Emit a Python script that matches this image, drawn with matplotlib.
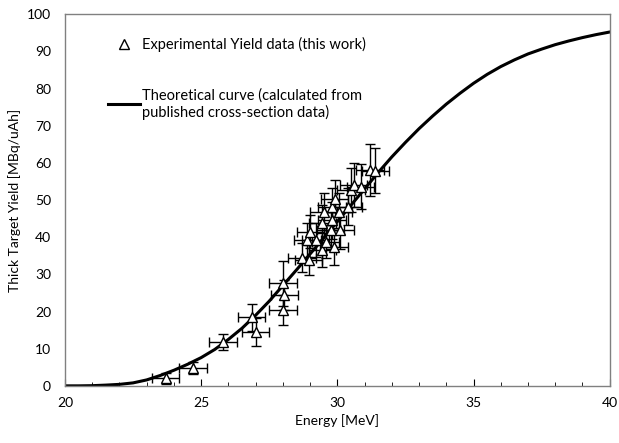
import numpy as np
import matplotlib.pyplot as plt
from matplotlib.lines import Line2D

plt.rcParams['font.family'] = ['Lato', 'DejaVu Sans']

# experimental yield points
energy = [23.7, 24.7, 25.8, 26.85, 27.0, 28.0, 28.05, 28.0,
          28.7, 28.95, 28.9, 29.2, 29.0, 29.45, 29.57, 29.88,
          29.76, 29.45, 29.8, 29.5, 29.8, 30.05, 29.9, 30.4,
          30.5, 30.6, 30.85, 30.1, 31.2, 31.4]
yield_exp = [2.0, 4.8, 11.8, 18.4, 14.4, 27.6, 24.5, 20.4,
             34.5, 33.9, 39.2, 39.2, 41.5, 36.6, 38.8, 37.4,
             41.9, 43.7, 44.6, 46.9, 48.2, 46.9, 50.4, 48.2,
             52.7, 54.0, 53.6, 41.9, 58.0, 57.9]
yield_err = [1.5, 1.5, 2.2, 3.6, 3.8, 6.0, 4.0, 4.0,
             4.0, 4.0, 4.5, 4.5, 4.5, 4.5, 4.5, 5.0,
             5.0, 5.0, 5.0, 5.0, 5.0, 5.0, 5.0, 5.0,
             6.0, 6.0, 6.0, 5.0, 7.0, 6.0]
energy_err = [0.5] * len(energy)

# theoretical curve, read every 0.5 MeV
e_curve = [20.0, 20.5, 21.0, 21.5, 22.0, 22.5, 23.0, 23.5, 24.0, 24.5,
           25.0, 25.5, 26.0, 26.5, 27.0, 27.5, 28.0, 28.5, 29.0, 29.5,
           30.0, 30.5, 31.0, 31.5, 32.0, 32.5, 33.0, 33.5, 34.0, 34.5,
           35.0, 35.5, 36.0, 36.5, 37.0, 37.5, 38.0, 38.5, 39.0, 39.5, 40.0]
y_curve = [0.0, 0.0, 0.05, 0.2, 0.4, 0.8, 1.6, 2.8, 4.2, 5.8,
           7.6, 9.8, 12.5, 15.5, 19.0, 22.8, 27.0, 31.2, 35.5, 39.8,
           44.2, 48.6, 53.0, 57.4, 61.6, 65.5, 69.2, 72.6, 75.8, 78.7,
           81.4, 83.8, 85.9, 87.7, 89.3, 90.6, 91.8, 92.8, 93.7, 94.5, 95.2]

fig = plt.figure(figsize=(6.19, 4.43), dpi=100)
ax = fig.add_axes([0.105, 0.129, 0.88, 0.839])

ax.plot(e_curve, y_curve, color='black', lw=2.2, zorder=2)
ax.errorbar(energy, yield_exp, yerr=yield_err, xerr=energy_err, fmt='^',
            ms=7, mfc='white', mec='black', mew=1.0, ecolor='black',
            elinewidth=1.0, capsize=3.5, capthick=1.0, zorder=3)

ax.set_xlim(20, 40)
ax.set_ylim(0, 100)
ax.set_xticks(range(20, 41, 5))
ax.set_xticks(range(20, 41, 1), minor=True)
ax.set_yticks(range(0, 101, 10))
ax.tick_params(axis='x', which='major', direction='in', length=5, labelsize=10, pad=8)
ax.tick_params(axis='x', which='minor', direction='in', length=3)
ax.tick_params(axis='y', direction='out', length=0, labelsize=10, pad=10)
for s in ax.spines.values():
    s.set_color('#808080')
    s.set_linewidth(1.0)

ax.set_xlabel('Energy [MeV]', fontsize=10, labelpad=4)
ax.set_ylabel('Thick Target Yield [MBq/uAh]', fontsize=10, labelpad=4)

handles = [Line2D([], [], ls='none', marker='^', ms=7, mfc='white', mec='black'),
           Line2D([], [], color='black', lw=2.2)]
labels = ['Experimental Yield data (this work)',
          'Theoretical curve (calculated from\npublished cross-section data)']
ax.legend(handles, labels, loc='upper left', bbox_to_anchor=(0.055, 0.975),
          frameon=False, fontsize=10.5, labelspacing=2.5, handlelength=2.2,
          handletextpad=0.15)

fig.savefig('out.png', dpi=100)
